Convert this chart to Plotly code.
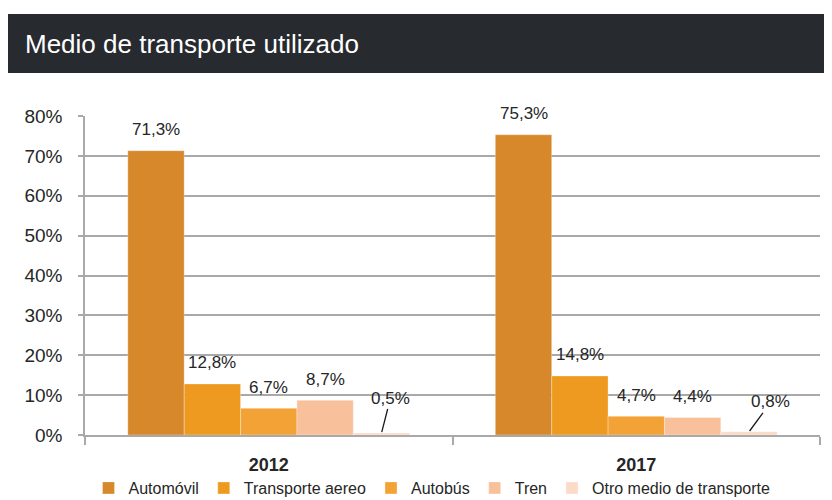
import plotly.graph_objects as go

years = ["2012", "2017"]
series_names = ["Automóvil", "Transporte aereo", "Autobús", "Tren", "Otro medio de transporte"]
automovil = [71.3, 75.3]
transporte_aereo = [12.8, 14.8]
autobus = [6.7, 4.7]
tren = [8.7, 4.4]
otro = [0.5, 0.8]
colors = ["#D6882B", "#EE9A21", "#F3A336", "#F8C19C", "#FBDAC7"]
y_ticks = [0, 10, 20, 30, 40, 50, 60, 70, 80]
y_tick_labels = ["0%", "10%", "20%", "30%", "40%", "50%", "60%", "70%", "80%"]

values = [automovil, transporte_aereo, autobus, tren, otro]

FONT = "Liberation Sans, Arial, Helvetica, sans-serif"
TXT = "#262626"
GRID = "#A9A9A9"

# page has an 8px body margin; figure is sized so that it fills the 832x500 window
OFF = 8
W, H = 832 - OFF, 500 - OFF
L, R, T, B = 85 - OFF, 12, 116 - OFF, 65
BARGAP = 0.233
n_series = len(values)
plot_w = W - L - R
plot_h = H - T - B
cat_px = plot_w / len(years)
bar_px = cat_px * (1 - BARGAP) / n_series

fig = go.Figure()
for name, vals, col in zip(series_names, values, colors):
    fig.add_trace(go.Bar(
        name=name, x=years, y=vals,
        marker=dict(color=col, line=dict(color="rgba(255,255,255,0.5)", width=0.6)),
        hoverinfo="skip",
    ))

def fmt(v):
    return f"{v:.1f}".replace(".", ",") + "%"

annotations = []
leader = {("2012", 4): (9, -35), ("2017", 4): (22, -30)}
for si, vals in enumerate(values):
    for yi, yr in enumerate(years):
        v = vals[yi]
        xs = (si - (n_series - 1) / 2) * bar_px
        if (yr, si) in leader:
            ax, ay = leader[(yr, si)]
            annotations.append(dict(
                x=yi, y=v, xref="x", yref="y", xshift=xs,
                text=fmt(v), showarrow=True, arrowhead=0, arrowwidth=1.3,
                arrowcolor="#1a1a1a", ax=ax, ay=ay, standoff=1,
                font=dict(family=FONT, size=17, color=TXT),
            ))
        else:
            annotations.append(dict(
                x=yi, y=v, xref="x", yref="y", xshift=xs, yshift=21,
                text=fmt(v), showarrow=False, yanchor="middle",
                font=dict(family=FONT, size=17, color=TXT),
            ))

fig.update_layout(
    width=W, height=H,
    margin=dict(l=L, r=R, t=T, b=B, autoexpand=False),
    paper_bgcolor="white", plot_bgcolor="white",
    barmode="group", bargap=BARGAP, bargroupgap=0,
    font=dict(family=FONT, color=TXT),
    title=dict(
        text="Medio de transporte utilizado",
        x=(25 - OFF) / W, xanchor="left", xref="container",
        y=1 - (44 - OFF) / H, yanchor="middle", yref="container",
        font=dict(family=FONT, size=26, color="white"),
    ),
    shapes=[dict(
        type="rect", xref="paper", yref="paper",
        x0=(0 - L) / plot_w, x1=(W - L) / plot_w + 0.01,
        y0=(H - B - (73 - OFF)) / plot_h, y1=(H - B - (14 - OFF)) / plot_h,
        fillcolor="#272A2F", line=dict(width=0), layer="below",
    )],
    annotations=annotations,
    showlegend=True,
    legend=dict(
        orientation="h", xref="container", yref="container",
        x=(432 - OFF) / W, xanchor="center", y=1 - (488 - OFF) / H, yanchor="middle",
        font=dict(family=FONT, size=16, color=TXT),
        bgcolor="rgba(0,0,0,0)",
    ),
    xaxis=dict(
        type="category", categoryorder="array", categoryarray=years,
        range=[-0.5, len(years) - 0.5], autorange=False, showgrid=False,
        showline=True, linecolor=GRID, linewidth=1.5,
        ticks="outside", tickson="boundaries", ticklen=8, tickcolor=GRID, tickwidth=1.5,
        tickangle=0, automargin=False, ticklabelstandoff=13,
        tickfont=dict(family=FONT, size=18, color=TXT, weight="bold"),
    ),
    yaxis=dict(
        range=[0, 80], autorange=False, tickmode="array",
        tickvals=y_ticks, ticktext=y_tick_labels,
        showgrid=True, gridcolor=GRID, gridwidth=1.5,
        showline=True, linecolor=GRID, linewidth=1.5,
        ticks="outside", ticklen=5, tickcolor=GRID, tickwidth=1.5,
        tickfont=dict(family=FONT, size=19, color=TXT),
        automargin=False, zeroline=False, ticklabelstandoff=12,
    ),
)

fig.write_html("out.html")
